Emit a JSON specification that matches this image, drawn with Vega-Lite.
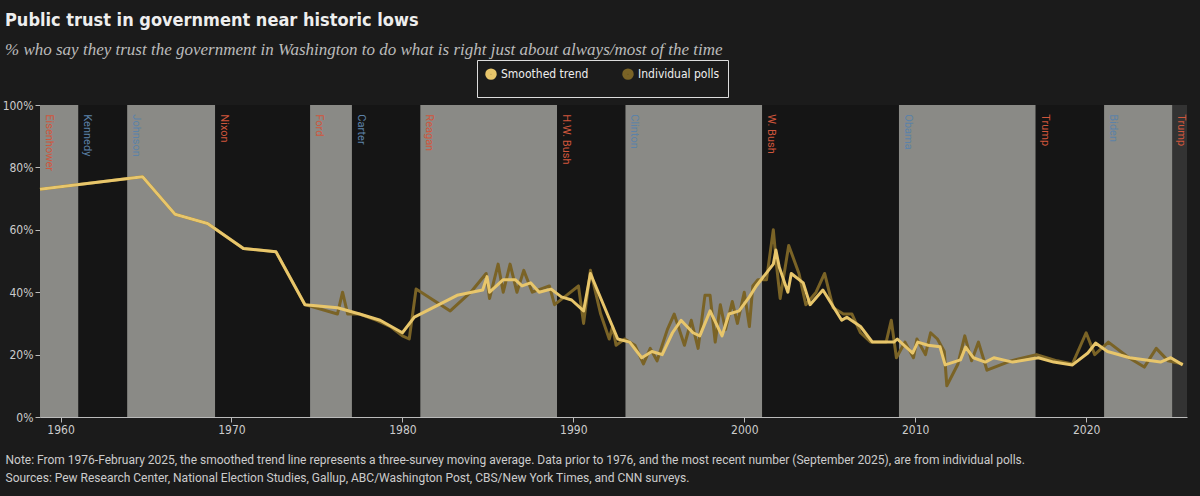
{
  "$schema": "https://vega.github.io/schema/vega-lite/v6.json",
  "width": 1147,
  "height": 312,
  "autosize": "none",
  "padding": {"left": 40, "top": 105, "right": 13, "bottom": 79},
  "background": "#1b1b1b",
  "title": {
    "text": "Public trust in government near historic lows",
    "subtitle": "% who say they trust the government in Washington to do what is right just about always/most of the time",
    "anchor": "start",
    "frame": "group",
    "dx": -35,
    "offset": 2,
    "font": "DejaVu Sans Condensed, Roboto, sans-serif",
    "fontSize": 18,
    "fontWeight": "bold",
    "color": "#eeeeee",
    "subtitleFont": "Liberation Serif",
    "subtitleFontStyle": "italic",
    "subtitleFontSize": 17,
    "subtitleColor": "#bbbbbb",
    "subtitlePadding": 12
  },
  "datasets": {
    "bands": [
      {"name": "Eisenhower", "start": 1958.8, "end": 1961.05, "party": "R", "shade": "g"},
      {"name": "Kennedy", "start": 1961.05, "end": 1963.9, "party": "D", "shade": "k"},
      {"name": "Johnson", "start": 1963.9, "end": 1969.05, "party": "D", "shade": "g"},
      {"name": "Nixon", "start": 1969.05, "end": 1974.6, "party": "R", "shade": "k"},
      {"name": "Ford", "start": 1974.6, "end": 1977.05, "party": "R", "shade": "g"},
      {"name": "Carter", "start": 1977.05, "end": 1981.05, "party": "D", "shade": "k"},
      {"name": "Reagan", "start": 1981.05, "end": 1989.05, "party": "R", "shade": "g"},
      {"name": "H.W. Bush", "start": 1989.05, "end": 1993.05, "party": "R", "shade": "k"},
      {"name": "Clinton", "start": 1993.05, "end": 2001.05, "party": "D", "shade": "g"},
      {"name": "W. Bush", "start": 2001.05, "end": 2009.05, "party": "R", "shade": "k"},
      {"name": "Obama", "start": 2009.05, "end": 2017.05, "party": "D", "shade": "g"},
      {"name": "Trump", "start": 2017.05, "end": 2021.05, "party": "R", "shade": "k"},
      {"name": "Biden", "start": 2021.05, "end": 2025.05, "party": "D", "shade": "g"},
      {"name": "Trump ", "start": 2025.05, "end": 2025.9, "party": "R", "shade": "d"}
    ],
    "trust": [
      {"series": "Individual polls", "year": 1958.8, "pct": 73},
      {"series": "Individual polls", "year": 1964.8, "pct": 77},
      {"series": "Individual polls", "year": 1966.7, "pct": 65},
      {"series": "Individual polls", "year": 1968.6, "pct": 62},
      {"series": "Individual polls", "year": 1970.7, "pct": 54},
      {"series": "Individual polls", "year": 1972.6, "pct": 53},
      {"series": "Individual polls", "year": 1974.3, "pct": 36},
      {"series": "Individual polls", "year": 1976.2, "pct": 33},
      {"series": "Individual polls", "year": 1976.5, "pct": 40},
      {"series": "Individual polls", "year": 1976.8, "pct": 33},
      {"series": "Individual polls", "year": 1977.5, "pct": 33},
      {"series": "Individual polls", "year": 1978.5, "pct": 31},
      {"series": "Individual polls", "year": 1979.3, "pct": 29},
      {"series": "Individual polls", "year": 1980.0, "pct": 26},
      {"series": "Individual polls", "year": 1980.4, "pct": 25},
      {"series": "Individual polls", "year": 1980.8, "pct": 41},
      {"series": "Individual polls", "year": 1982.8, "pct": 34},
      {"series": "Individual polls", "year": 1984.0, "pct": 40},
      {"series": "Individual polls", "year": 1984.6, "pct": 44},
      {"series": "Individual polls", "year": 1984.9, "pct": 46},
      {"series": "Individual polls", "year": 1985.1, "pct": 38},
      {"series": "Individual polls", "year": 1985.6, "pct": 49},
      {"series": "Individual polls", "year": 1985.9, "pct": 40},
      {"series": "Individual polls", "year": 1986.3, "pct": 49},
      {"series": "Individual polls", "year": 1986.7, "pct": 40},
      {"series": "Individual polls", "year": 1987.1, "pct": 47},
      {"series": "Individual polls", "year": 1987.6, "pct": 40},
      {"series": "Individual polls", "year": 1988.6, "pct": 42},
      {"series": "Individual polls", "year": 1988.9, "pct": 36},
      {"series": "Individual polls", "year": 1989.6, "pct": 39},
      {"series": "Individual polls", "year": 1990.3, "pct": 42},
      {"series": "Individual polls", "year": 1990.6, "pct": 30},
      {"series": "Individual polls", "year": 1991.0, "pct": 47},
      {"series": "Individual polls", "year": 1991.6, "pct": 33},
      {"series": "Individual polls", "year": 1992.1, "pct": 25},
      {"series": "Individual polls", "year": 1992.3, "pct": 29},
      {"series": "Individual polls", "year": 1992.5, "pct": 23},
      {"series": "Individual polls", "year": 1993.0, "pct": 25},
      {"series": "Individual polls", "year": 1993.6, "pct": 23},
      {"series": "Individual polls", "year": 1994.1, "pct": 17},
      {"series": "Individual polls", "year": 1994.5, "pct": 22},
      {"series": "Individual polls", "year": 1994.9, "pct": 18},
      {"series": "Individual polls", "year": 1995.5, "pct": 28},
      {"series": "Individual polls", "year": 1995.9, "pct": 33},
      {"series": "Individual polls", "year": 1996.5, "pct": 23},
      {"series": "Individual polls", "year": 1996.9, "pct": 31},
      {"series": "Individual polls", "year": 1997.3, "pct": 22},
      {"series": "Individual polls", "year": 1997.7, "pct": 39},
      {"series": "Individual polls", "year": 1998.0, "pct": 39},
      {"series": "Individual polls", "year": 1998.3, "pct": 24},
      {"series": "Individual polls", "year": 1998.6, "pct": 36},
      {"series": "Individual polls", "year": 1998.9, "pct": 28},
      {"series": "Individual polls", "year": 1999.3, "pct": 37},
      {"series": "Individual polls", "year": 1999.6, "pct": 30},
      {"series": "Individual polls", "year": 2000.0, "pct": 40},
      {"series": "Individual polls", "year": 2000.3, "pct": 29},
      {"series": "Individual polls", "year": 2000.5, "pct": 42},
      {"series": "Individual polls", "year": 2000.8, "pct": 44},
      {"series": "Individual polls", "year": 2001.3, "pct": 44},
      {"series": "Individual polls", "year": 2001.7, "pct": 60},
      {"series": "Individual polls", "year": 2001.9, "pct": 48},
      {"series": "Individual polls", "year": 2002.1, "pct": 38},
      {"series": "Individual polls", "year": 2002.6, "pct": 55},
      {"series": "Individual polls", "year": 2003.2, "pct": 46},
      {"series": "Individual polls", "year": 2003.6, "pct": 36},
      {"series": "Individual polls", "year": 2004.2, "pct": 40},
      {"series": "Individual polls", "year": 2004.7, "pct": 46},
      {"series": "Individual polls", "year": 2005.2, "pct": 35},
      {"series": "Individual polls", "year": 2005.8, "pct": 33},
      {"series": "Individual polls", "year": 2006.3, "pct": 33},
      {"series": "Individual polls", "year": 2006.8, "pct": 27},
      {"series": "Individual polls", "year": 2007.4, "pct": 24},
      {"series": "Individual polls", "year": 2008.3, "pct": 24},
      {"series": "Individual polls", "year": 2008.6, "pct": 31},
      {"series": "Individual polls", "year": 2008.9, "pct": 19},
      {"series": "Individual polls", "year": 2009.4, "pct": 24},
      {"series": "Individual polls", "year": 2009.9, "pct": 19},
      {"series": "Individual polls", "year": 2010.1, "pct": 25},
      {"series": "Individual polls", "year": 2010.6, "pct": 20},
      {"series": "Individual polls", "year": 2010.9, "pct": 27},
      {"series": "Individual polls", "year": 2011.3, "pct": 25},
      {"series": "Individual polls", "year": 2011.7, "pct": 21},
      {"series": "Individual polls", "year": 2011.85, "pct": 10},
      {"series": "Individual polls", "year": 2012.5, "pct": 17},
      {"series": "Individual polls", "year": 2012.9, "pct": 26},
      {"series": "Individual polls", "year": 2013.3, "pct": 18},
      {"series": "Individual polls", "year": 2013.7, "pct": 24},
      {"series": "Individual polls", "year": 2014.2, "pct": 15},
      {"series": "Individual polls", "year": 2015.6, "pct": 18},
      {"series": "Individual polls", "year": 2017.1, "pct": 20},
      {"series": "Individual polls", "year": 2018.3, "pct": 18},
      {"series": "Individual polls", "year": 2019.2, "pct": 17},
      {"series": "Individual polls", "year": 2020.0, "pct": 27},
      {"series": "Individual polls", "year": 2020.5, "pct": 20},
      {"series": "Individual polls", "year": 2021.3, "pct": 24},
      {"series": "Individual polls", "year": 2022.5, "pct": 19},
      {"series": "Individual polls", "year": 2023.4, "pct": 16},
      {"series": "Individual polls", "year": 2024.1, "pct": 22},
      {"series": "Individual polls", "year": 2024.8, "pct": 18},
      {"series": "Individual polls", "year": 2025.65, "pct": 17},
      {"series": "Smoothed trend", "year": 1958.8, "pct": 73},
      {"series": "Smoothed trend", "year": 1964.8, "pct": 77},
      {"series": "Smoothed trend", "year": 1966.7, "pct": 65},
      {"series": "Smoothed trend", "year": 1968.6, "pct": 62},
      {"series": "Smoothed trend", "year": 1970.7, "pct": 54},
      {"series": "Smoothed trend", "year": 1972.6, "pct": 53},
      {"series": "Smoothed trend", "year": 1974.3, "pct": 36},
      {"series": "Smoothed trend", "year": 1976.2, "pct": 35},
      {"series": "Smoothed trend", "year": 1977.5, "pct": 33},
      {"series": "Smoothed trend", "year": 1978.7, "pct": 31},
      {"series": "Smoothed trend", "year": 1980.0, "pct": 27},
      {"series": "Smoothed trend", "year": 1980.7, "pct": 32},
      {"series": "Smoothed trend", "year": 1983.2, "pct": 39},
      {"series": "Smoothed trend", "year": 1984.7, "pct": 40.7},
      {"series": "Smoothed trend", "year": 1984.95, "pct": 45},
      {"series": "Smoothed trend", "year": 1985.1, "pct": 40},
      {"series": "Smoothed trend", "year": 1985.9, "pct": 44},
      {"series": "Smoothed trend", "year": 1986.6, "pct": 44},
      {"series": "Smoothed trend", "year": 1987.0, "pct": 42},
      {"series": "Smoothed trend", "year": 1987.5, "pct": 43},
      {"series": "Smoothed trend", "year": 1988.0, "pct": 40},
      {"series": "Smoothed trend", "year": 1988.7, "pct": 41},
      {"series": "Smoothed trend", "year": 1989.3, "pct": 38.5},
      {"series": "Smoothed trend", "year": 1989.9, "pct": 37.5},
      {"series": "Smoothed trend", "year": 1990.6, "pct": 34},
      {"series": "Smoothed trend", "year": 1991.0, "pct": 46},
      {"series": "Smoothed trend", "year": 1992.6, "pct": 25},
      {"series": "Smoothed trend", "year": 1993.3, "pct": 24},
      {"series": "Smoothed trend", "year": 1994.0, "pct": 19},
      {"series": "Smoothed trend", "year": 1994.6, "pct": 21},
      {"series": "Smoothed trend", "year": 1995.2, "pct": 20},
      {"series": "Smoothed trend", "year": 1995.8, "pct": 27},
      {"series": "Smoothed trend", "year": 1996.3, "pct": 31},
      {"series": "Smoothed trend", "year": 1997.0, "pct": 27},
      {"series": "Smoothed trend", "year": 1997.4, "pct": 26},
      {"series": "Smoothed trend", "year": 1998.0, "pct": 34},
      {"series": "Smoothed trend", "year": 1998.7, "pct": 26},
      {"series": "Smoothed trend", "year": 1999.1, "pct": 33},
      {"series": "Smoothed trend", "year": 1999.7, "pct": 34},
      {"series": "Smoothed trend", "year": 2000.3, "pct": 38.5},
      {"series": "Smoothed trend", "year": 2000.7, "pct": 42},
      {"series": "Smoothed trend", "year": 2001.7, "pct": 49},
      {"series": "Smoothed trend", "year": 2001.85, "pct": 53.5},
      {"series": "Smoothed trend", "year": 2002.05, "pct": 48},
      {"series": "Smoothed trend", "year": 2002.55, "pct": 40},
      {"series": "Smoothed trend", "year": 2002.75, "pct": 46},
      {"series": "Smoothed trend", "year": 2003.45, "pct": 43},
      {"series": "Smoothed trend", "year": 2003.85, "pct": 36},
      {"series": "Smoothed trend", "year": 2004.6, "pct": 40.7},
      {"series": "Smoothed trend", "year": 2005.7, "pct": 31},
      {"series": "Smoothed trend", "year": 2006.0, "pct": 32},
      {"series": "Smoothed trend", "year": 2006.8, "pct": 29},
      {"series": "Smoothed trend", "year": 2007.5, "pct": 24},
      {"series": "Smoothed trend", "year": 2008.75, "pct": 24},
      {"series": "Smoothed trend", "year": 2008.95, "pct": 25},
      {"series": "Smoothed trend", "year": 2009.85, "pct": 20.5},
      {"series": "Smoothed trend", "year": 2010.15, "pct": 24},
      {"series": "Smoothed trend", "year": 2010.75, "pct": 23},
      {"series": "Smoothed trend", "year": 2011.45, "pct": 22.5},
      {"series": "Smoothed trend", "year": 2011.75, "pct": 16.7},
      {"series": "Smoothed trend", "year": 2012.65, "pct": 18.3},
      {"series": "Smoothed trend", "year": 2012.95, "pct": 22.4},
      {"series": "Smoothed trend", "year": 2013.4, "pct": 19},
      {"series": "Smoothed trend", "year": 2014.1, "pct": 17.6},
      {"series": "Smoothed trend", "year": 2014.6, "pct": 19},
      {"series": "Smoothed trend", "year": 2015.7, "pct": 17.6},
      {"series": "Smoothed trend", "year": 2017.2, "pct": 19},
      {"series": "Smoothed trend", "year": 2018.1, "pct": 17.6},
      {"series": "Smoothed trend", "year": 2019.2, "pct": 16.7},
      {"series": "Smoothed trend", "year": 2020.1, "pct": 20.5},
      {"series": "Smoothed trend", "year": 2020.55, "pct": 23.7},
      {"series": "Smoothed trend", "year": 2021.25, "pct": 21},
      {"series": "Smoothed trend", "year": 2022.55, "pct": 19},
      {"series": "Smoothed trend", "year": 2024.35, "pct": 17.6},
      {"series": "Smoothed trend", "year": 2024.95, "pct": 19},
      {"series": "Smoothed trend", "year": 2025.65, "pct": 16.7}
    ]
  },
  "layer": [
    {
      "data": {"name": "bands"},
      "mark": {"type": "rect"},
      "encoding": {
        "x": {"field": "start", "type": "quantitative", "scale": {"domain": [1958.8, 2025.9], "nice": false, "zero": false},
          "axis": {
            "values": [1960, 1970, 1980, 1990, 2000, 2010, 2020],
            "format": "d",
            "labelColor": "#cccccc",
            "labelFont": "DejaVu Sans Condensed, Roboto, sans-serif",
            "labelFontSize": 12,
            "tickColor": "#bbbbbb",
            "domainColor": "#bbbbbb",
            "grid": false,
            "title": [
              "Note: From 1976-February 2025, the smoothed trend line represents a three-survey moving average. Data prior to 1976, and the most recent number (September 2025), are from individual polls.",
              "Sources: Pew Research Center, National Election Studies, Gallup, ABC/Washington Post, CBS/New York Times, and CNN surveys."
            ],
            "titleAnchor": "start",
            "titleAlign": "left",
            "titleX": -35,
            "titleY": 42,
            "titleBaseline": "middle",
            "titleFont": "Roboto, sans-serif",
            "titleFontSize": 12,
            "titleFontWeight": "normal",
            "titleColor": "#cccccc",
            "titleLineHeight": 18
          }
        },
        "x2": {"field": "end"},
        "color": {
          "field": "shade",
          "type": "nominal",
          "scale": {"domain": ["g", "k", "d"], "range": ["#8a8a86", "#151515", "#333333"]},
          "legend": null
        }
      }
    },
    {
      "data": {"name": "bands"},
      "mark": {"type": "text", "angle": 90, "align": "left", "baseline": "middle", "font": "Roboto, sans-serif", "fontSize": 11},
      "encoding": {
        "x": {"field": "start", "type": "quantitative"},
        "xOffset": {"value": 9},
        "y": {"datum": 97, "type": "quantitative"},
        "text": {"field": "name"},
        "fill": {
          "field": "party",
          "type": "nominal",
          "scale": {"domain": ["R", "D"], "range": ["#d0563c", "#5c82a8"]},
          "legend": null
        }
      }
    },
    {
      "layer": [
        {
          "transform": [{"filter": "datum.series == 'Individual polls'"}],
          "mark": {"type": "line", "strokeWidth": 3, "strokeJoin": "round"},
          "encoding": {
            "x": {"field": "year", "type": "quantitative"},
            "y": {"field": "pct", "type": "quantitative"},
            "color": {"field": "series", "type": "nominal"}
          }
        },
        {
          "transform": [{"filter": "datum.series == 'Smoothed trend'"}],
          "mark": {"type": "line", "strokeWidth": 3, "strokeJoin": "round"},
          "encoding": {
            "x": {"field": "year", "type": "quantitative"},
            "y": {
              "field": "pct",
              "type": "quantitative",
              "scale": {"domain": [0, 100]},
              "axis": {
                "values": [0, 20, 40, 60, 80, 100],
                "labelExpr": "datum.value + '%'",
                "labelColor": "#cccccc",
                "labelFont": "DejaVu Sans Condensed, Roboto, sans-serif",
                "labelFontSize": 12,
                "tickColor": "#bbbbbb",
                "domainColor": "#bbbbbb",
                "gridColor": "#555555",
                "gridDash": [2, 2],
                "title": null
              }
            },
            "color": {
              "field": "series",
              "type": "nominal",
              "scale": {"domain": ["Smoothed trend", "Individual polls"], "range": ["#e8c66b", "#7a6326"]},
              "legend": {
                "title": null,
                "orient": "none",
                "direction": "horizontal",
                "legendX": 437,
                "legendY": -45,
                "symbolType": "circle",
                "symbolSize": 30,
                "symbolStrokeWidth": 6,
                "labelColor": "#eeeeee",
                "labelFont": "DejaVu Sans Condensed, Roboto, sans-serif",
                "labelFontSize": 12,
                "columnPadding": 24,
                "padding": 8,
                "strokeColor": "#dddddd"
              }
            }
          }
        }
      ],
      "data": {"name": "trust"}
    }
  ],
  "resolve": {"scale": {"color": "independent", "fill": "independent"}},
  "config": {
    "view": {"stroke": null},
    "legend": {"symbolType": "circle"}
  }
}
